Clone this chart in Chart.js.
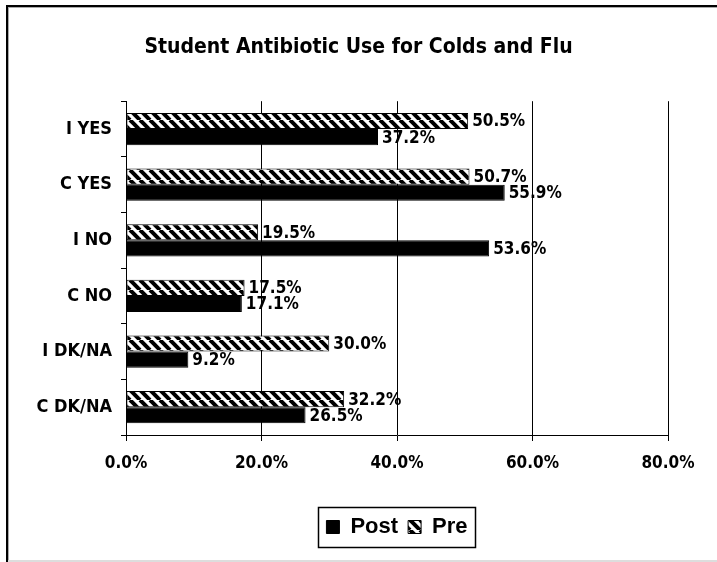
<!DOCTYPE html>
<html>
<head>
<meta charset="utf-8">
<script src="https://cdn.jsdelivr.net/npm/chart.js@4.4.1/dist/chart.umd.min.js"></script>
<style>
  html, body { margin: 0; padding: 0; background: #fff; }
  #wrap { width: 717px; height: 562px; position: relative; }
</style>
</head>
<body>
<div id="wrap"><canvas id="chart" width="717" height="562"></canvas></div>
<script>
const categories = ['I YES', 'C YES', 'I NO', 'C NO', 'I DK/NA', 'C DK/NA'];
const preValues = [50.5, 50.7, 19.5, 17.5, 30.0, 32.2];
const postValues = [37.2, 55.9, 53.6, 17.1, 9.2, 26.5];
const xTickValues = [0, 20, 40, 60, 80];

const narrow = '"DejaVu Sans Condensed", "DejaVu Sans", sans-serif';

// diagonal hatch used for the Pre bars
function makeHatch() {
  const p = 10;
  const c = document.createElement('canvas');
  c.width = p; c.height = p;
  const g = c.getContext('2d');
  g.fillStyle = '#fff';
  g.fillRect(0, 0, p, p);
  g.strokeStyle = '#000';
  g.lineWidth = 4;
  [-p, 0, p].forEach(o => {
    g.beginPath();
    g.moveTo(o, 0);
    g.lineTo(o + p, p);
    g.stroke();
  });
  return g.createPattern(c, 'repeat');
}

// value labels at the end of every bar
const barLabels = {
  id: 'barLabels',
  afterDatasetsDraw(chart) {
    const ctx = chart.ctx;
    ctx.save();
    ctx.font = 'bold 17px ' + narrow;
    ctx.fillStyle = '#000';
    ctx.textAlign = 'left';
    ctx.textBaseline = 'middle';
    chart.data.datasets.forEach((ds, i) => {
      chart.getDatasetMeta(i).data.forEach((bar, j) => {
        ctx.fillText(ds.data[j].toFixed(1) + '%', bar.x + 4, bar.y + 1);
      });
    });
    ctx.restore();
  }
};

// outer frame of the picture and the box around the legend
const frames = {
  id: 'frames',
  afterDraw(chart) {
    const ctx = chart.ctx;
    ctx.save();
    ctx.fillStyle = '#000';
    ctx.fillRect(6, 5, 2, 557);
    ctx.fillRect(6, 5, 711, 2);
    ctx.fillStyle = '#aaa';
    ctx.fillRect(8, 7, 1, 555);
    ctx.fillRect(8, 7, 709, 1);
    ctx.fillStyle = '#ddd';
    ctx.fillRect(8, 560, 709, 2);

    const lg = chart.legend;
    const boxes = lg.legendHitBoxes;
    if (boxes && boxes.length) {
      const left = Math.min(...boxes.map(b => b.left)) - 8;
      const right = Math.max(...boxes.map(b => b.left + b.width)) + 8;
      ctx.strokeStyle = '#000';
      ctx.lineWidth = 1.5;
      ctx.strokeRect(Math.round(left) + 0.5, lg.top + 1.5, Math.round(right - left), lg.bottom - lg.top - 2);
    }
    ctx.restore();
  }
};

const hatch = makeHatch();

new Chart(document.getElementById('chart'), {
  type: 'bar',
  data: {
    labels: categories,
    datasets: [
      {
        label: 'Pre',
        data: preValues,
        backgroundColor: hatch,
        borderColor: '#000',
        borderWidth: 1,
        borderSkipped: false
      },
      {
        label: 'Post',
        data: postValues,
        backgroundColor: '#000',
        borderColor: '#000',
        borderWidth: 1
      }
    ]
  },
  options: {
    indexAxis: 'y',
    responsive: false,
    animation: false,
    categoryPercentage: 0.58,
    barPercentage: 1.0,
    layout: { padding: { left: 0, right: 0, top: 0, bottom: 14 } },
    scales: {
      x: {
        min: 0,
        max: 80,
        afterBuildTicks(s) { s.ticks = xTickValues.map(v => ({ value: v })); },
        afterFit(s) { s.height = 71; },
        grid: { color: '#000', lineWidth: 1, tickLength: 6 },
        border: { color: '#000', width: 1 },
        ticks: {
          color: '#000',
          padding: 12,
          font: { family: narrow, size: 17, weight: 'bold' },
          callback: v => Number(v).toFixed(1) + '%'
        }
      },
      y: {
        afterFit(s) { s.width = 126; },
        grid: { drawOnChartArea: false, color: '#000', tickLength: 5, offset: true },
        border: { color: '#000', width: 1 },
        ticks: {
          color: '#000',
          padding: 9,
          font: { family: narrow, size: 18, weight: 'bold' }
        }
      },
      r: {
        type: 'linear',
        axis: 'y',
        position: 'right',
        grid: { display: false, drawTicks: false },
        border: { display: false },
        ticks: { display: false },
        afterFit(s) { s.width = 49; }
      }
    },
    plugins: {
      title: {
        display: true,
        text: 'Student Antibiotic Use for Colds and Flu',
        color: '#000',
        font: { family: narrow, size: 21, weight: 'bold' },
        padding: { top: 35, bottom: 41 }
      },
      legend: {
        position: 'bottom',
        fullSize: false,
        reverse: true,
        labels: {
          color: '#000',
          boxWidth: 13,
          boxHeight: 13,
          padding: 10,
          font: { family: '"Liberation Sans", Arial, sans-serif', size: 22, weight: 'bold' }
        }
      },
      tooltip: { enabled: false }
    }
  },
  plugins: [barLabels, frames]
});
</script>
</body>
</html>
